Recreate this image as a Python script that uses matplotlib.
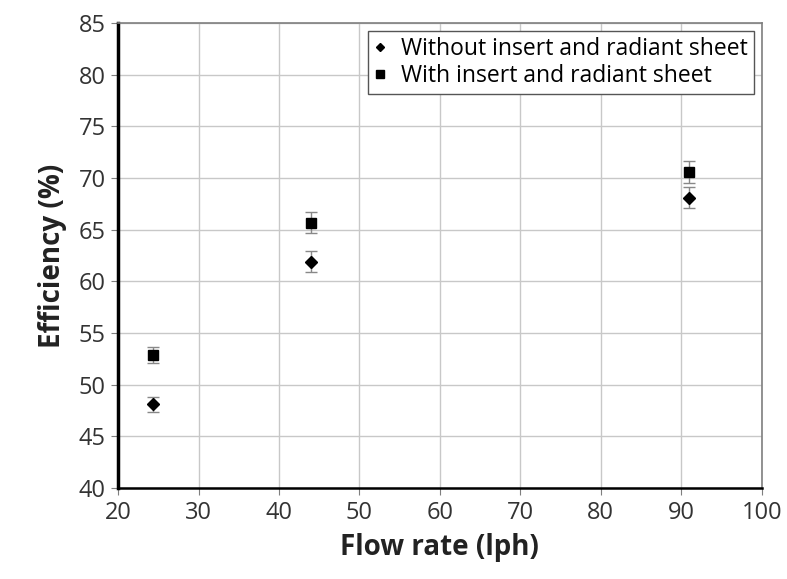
import matplotlib.pyplot as plt

flow = [24.3, 44.0, 91.0]
eff_without = [48.1, 61.9, 68.1]
err_without = [0.7, 1.0, 1.0]
eff_with = [52.9, 65.7, 70.6]
err_with = [0.8, 1.0, 1.1]

plt.rcParams['font.family'] = ['Open Sans', 'DejaVu Sans']

fig = plt.figure(figsize=(7.87, 5.79), dpi=100)
ax = fig.add_axes([0.15, 0.157, 0.818, 0.803])

ax.errorbar(flow, eff_without, yerr=err_without, fmt='D', color='black', ms=6,
            ecolor='#888888', elinewidth=1, capsize=4, capthick=1,
            label='Without insert and radiant sheet', zorder=3)
ax.errorbar(flow, eff_with, yerr=err_with, fmt='s', color='black', ms=7,
            ecolor='#888888', elinewidth=1, capsize=4, capthick=1,
            label='With insert and radiant sheet', zorder=3)

ax.set_xlim(20, 100)
ax.set_ylim(40, 85)
ax.set_xticks(range(20, 101, 10))
ax.set_yticks(range(40, 86, 5))
ax.grid(True, color='#c8c8c8', linewidth=1)
ax.set_axisbelow(True)

ax.spines['left'].set_linewidth(2.5)
ax.spines['left'].set_color('black')
ax.spines['bottom'].set_linewidth(1.8)
ax.spines['bottom'].set_color('black')
for s in ['top', 'right']:
    ax.spines[s].set_color('#7f7f7f')
    ax.spines[s].set_linewidth(1.2)

ax.tick_params(axis='both', labelsize=17, length=5, color='#7f7f7f', colors='#333333', pad=4)
ax.set_xlabel('Flow rate (lph)', fontsize=20, fontweight='bold', labelpad=6, color='#222222')
ax.set_ylabel('Efficiency (%)', fontsize=20, fontweight='bold', labelpad=8, color='#222222')

# legend shows markers only, no error bar glyphs
handles, labels = ax.get_legend_handles_labels()
handles = [h[0] for h in handles]
leg = ax.legend(handles, labels, loc='upper right', fontsize=16.5, frameon=True, fancybox=False,
                edgecolor='#555555', framealpha=1, handlelength=0.5, handletextpad=0.7,
                borderpad=0.25, labelspacing=0.15, markerscale=0.75, borderaxespad=0.35)
leg.get_frame().set_linewidth(1)

fig.savefig('out.png', dpi=100)
